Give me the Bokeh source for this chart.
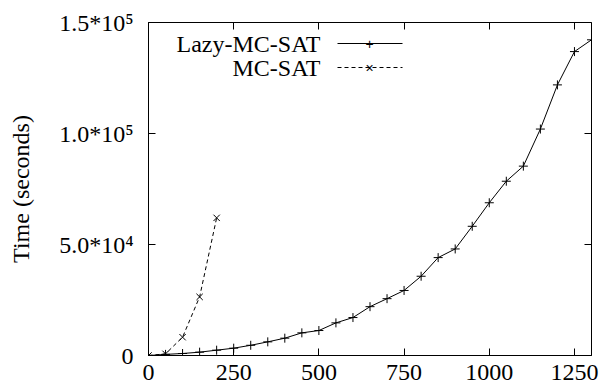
from bokeh.plotting import figure
from bokeh.models import (Range1d, FixedTicker, LinearAxis, Label, Arrow)
from bokeh.embed import file_html
from bokeh.resources import INLINE

lazy_x = [0, 50, 100, 150, 200, 250, 300, 350, 400, 450, 500, 550, 600, 650,
          700, 750, 800, 850, 900, 950, 1000, 1050, 1100, 1150, 1200, 1250, 1300]
lazy_y = [0, 500, 900, 1500, 2400, 3300, 4600, 6150, 7800, 10200, 11250, 14700,
          17100, 22000, 25600, 29300, 35700, 44100, 48000, 58200, 68800, 78500,
          85300, 102000, 121900, 136900, 142200]
mc_x = [0, 50, 100, 150, 200]
mc_y = [0, 750, 8250, 26400, 62000]

x_ticks = [0, 250, 500, 750, 1000, 1250]
y_ticks = [0, 50000, 100000, 150000]
y_tick_labels = ["0", "5.0*10\u2074", "1.0*10\u2075", "1.5*10\u2075"]
series_names = ["Lazy-MC-SAT", "MC-SAT"]

FONT = "Liberation Serif"
FS = "24px"

p = figure(width=605, height=392, output_backend="svg", toolbar_location=None,
           x_range=Range1d(0, 1300), y_range=Range1d(0, 150000),
           min_border_left=148, min_border_right=14, min_border_top=22,
           min_border_bottom=37)
p.background_fill_color = "white"
p.border_fill_color = "white"
p.outline_line_color = "black"
p.outline_line_width = 1
p.grid.visible = False

p.xaxis.ticker = FixedTicker(ticks=x_ticks)
p.yaxis.ticker = FixedTicker(ticks=y_ticks)
p.yaxis.major_label_overrides = {t: s for t, s in zip(y_ticks, y_tick_labels)}
p.yaxis.axis_label = "Time (seconds)"

for ax in (p.xaxis, p.yaxis):
    ax.major_tick_in = 7
    ax.major_tick_out = 0
    ax.minor_tick_line_color = None
    ax.axis_line_color = "black"
    ax.major_tick_line_color = "black"
    ax.major_label_text_font = FONT
    ax.major_label_text_font_size = FS
    ax.major_label_text_color = "black"
    ax.axis_label_text_font = FONT
    ax.axis_label_text_font_size = FS
    ax.axis_label_text_font_style = "normal"
    ax.axis_label_text_color = "black"

p.xaxis.major_label_standoff = 9
p.yaxis.major_label_standoff = 15
p.yaxis.axis_label_standoff = 22

# mirrored ticks on top and right (labels not drawn)
top = LinearAxis(ticker=FixedTicker(ticks=x_ticks), major_tick_in=7, major_tick_out=0,
                 minor_tick_line_color=None, major_label_text_font_size="1px",
                 major_label_text_color=None, major_label_standoff=0,
                 axis_line_color=None)
right = LinearAxis(ticker=FixedTicker(ticks=y_ticks), major_tick_in=7, major_tick_out=0,
                   minor_tick_line_color=None, major_label_text_font_size="1px",
                   major_label_text_color=None, major_label_standoff=0,
                   axis_line_color=None)
p.add_layout(top, "above")
p.add_layout(right, "right")

p.line(lazy_x, lazy_y, line_color="black", line_width=1)
p.scatter(lazy_x, lazy_y, marker="cross", size=9, line_color="black", line_width=1)
p.line(mc_x, mc_y, line_color="black", line_width=1, line_dash="4 3")
p.scatter(mc_x, mc_y, marker="x", size=9, line_color="black", line_width=1)

# gnuplot-style legend: text then sample (screen units relative to the frame)
rows = [(312, "solid", "+"), (288, "4 3", "\u00d7")]
for name, (ly, dash, mk) in zip(series_names, rows):
    p.add_layout(Label(x=172, y=ly, x_units="screen", y_units="screen", text=name,
                       text_font=FONT, text_font_size=FS, text_align="right",
                       text_baseline="middle", text_color="black"))
    p.add_layout(Arrow(x_start=189, y_start=ly, x_end=254, y_end=ly,
                       start_units="screen", end_units="screen", end=None,
                       line_color="black", line_width=1, line_dash=dash))
    p.add_layout(Label(x=221, y=ly, x_units="screen", y_units="screen", text=mk,
                       text_font="Liberation Sans", text_font_size="14px",
                       text_align="center", text_baseline="middle", text_color="black"))

open("out.html", "w").write(file_html(p, INLINE))
